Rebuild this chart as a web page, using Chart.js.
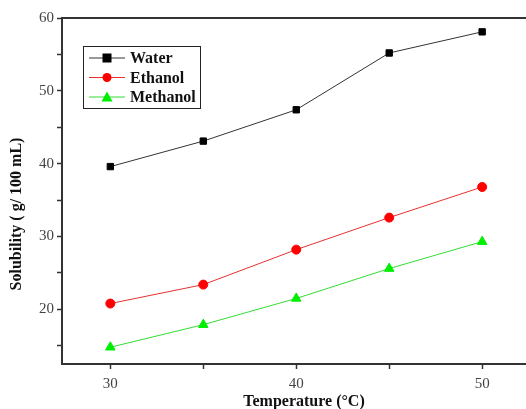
<!DOCTYPE html>
<html>
<head>
<meta charset="utf-8">
<script src="https://cdn.jsdelivr.net/npm/chart.js@4"></script>
<style>
  html, body { margin: 0; padding: 0; background: #fff; overflow: hidden; }
  #wrap { width: 537px; height: 409px; }
</style>
</head>
<body>
<div id="wrap"><canvas id="myChart" width="537" height="409"></canvas></div>
<script>
var temps = [30, 35, 40, 45, 50];
var water = [39.6, 43.1, 47.4, 55.2, 58.1];
var ethanol = [20.8, 23.4, 28.2, 32.6, 36.8];
var methanol = [14.8, 17.9, 21.5, 25.6, 29.3];
var seriesNames = ['Water', 'Ethanol', 'Methanol'];
var xTickLabels = [30, 40, 50];
var yTickLabels = [20, 30, 40, 50, 60];
var xTitle = 'Temperature (°C)';
var yTitle = 'Solubility ( g/ 100 mL)';

function pts(ys) {
  return temps.map(function (t, i) { return { x: t, y: ys[i] }; });
}

// top frame, axis titles and the legend box (line + marker, origin style)
var frameLegend = {
  id: 'frameLegend',
  afterDraw: function (chart) {
    var c = chart.ctx, a = chart.chartArea;
    c.save();
    c.strokeStyle = '#333';
    c.lineWidth = 2;
    c.beginPath();
    c.moveTo(a.left, a.top);
    c.lineTo(a.right, a.top);
    c.stroke();

    c.fillStyle = '#111';
    c.font = 'bold 16px "Liberation Serif"';
    c.textAlign = 'center';
    c.textBaseline = 'middle';
    c.fillText(xTitle, 304, 402);
    c.save();
    c.translate(17, 214);
    c.rotate(-Math.PI / 2);
    c.fillText(yTitle, 0, 0);
    c.restore();

    var bx = a.left + 21, by = a.top + 28, bw = 117, bh = 62;
    c.lineWidth = 1;
    c.strokeStyle = '#222';
    c.fillStyle = '#fff';
    c.fillRect(bx, by, bw, bh);
    c.strokeRect(bx + 0.5, by + 0.5, bw, bh);
    c.font = 'bold 16px "Liberation Serif"';
    c.textAlign = 'left';
    chart.data.datasets.forEach(function (ds, i) {
      var y = by + 12 + i * 19.5;
      var mx = bx + 24, r = ds.pointRadius;
      c.strokeStyle = ds.borderColor;
      c.lineWidth = 1;
      c.beginPath();
      c.moveTo(bx + 6, y);
      c.lineTo(bx + 42, y);
      c.stroke();
      c.fillStyle = ds.pointBackgroundColor;
      c.beginPath();
      if (ds.pointStyle === 'rect') {
        c.fillRect(mx - r, y - r, r * 2, r * 2);
      } else if (ds.pointStyle === 'circle') {
        c.arc(mx, y, r, 0, Math.PI * 2);
        c.fill();
      } else {
        c.moveTo(mx, y - r);
        c.lineTo(mx + r, y + r * 0.8);
        c.lineTo(mx - r, y + r * 0.8);
        c.closePath();
        c.fill();
      }
      c.fillStyle = '#111';
      c.fillText(ds.label, bx + 47, y + 1);
    });
    c.restore();
  }
};

var ctx = document.getElementById('myChart').getContext('2d');
var myChart = new Chart(ctx, {
  type: 'line',
  data: {
    datasets: [{
      label: seriesNames[0],
      data: pts(water),
      borderColor: '#333',
      pointBackgroundColor: '#000',
      pointBorderColor: '#000',
      pointStyle: 'rect',
      pointRadius: 4.5
    }, {
      label: seriesNames[1],
      data: pts(ethanol),
      borderColor: '#e83030',
      pointBackgroundColor: '#ff0000',
      pointBorderColor: '#ff0000',
      pointStyle: 'circle',
      pointRadius: 4.5
    }, {
      label: seriesNames[2],
      data: pts(methanol),
      borderColor: '#33dd33',
      pointBackgroundColor: '#00ee00',
      pointBorderColor: '#00ee00',
      pointStyle: 'triangle',
      pointRadius: 5.5
    }]
  },
  options: {
    responsive: false,
    animation: false,
    layout: { padding: { top: 18, right: 0, left: 0, bottom: 0 } },
    elements: { line: { borderWidth: 1, tension: 0 }, point: { borderWidth: 1 } },
    plugins: { legend: { display: false }, tooltip: { enabled: false } },
    scales: {
      x: {
        type: 'linear',
        min: 27.4,
        max: 52.6,
        afterFit: function (s) { s.height = 45; },
        afterBuildTicks: function (s) {
          s.ticks = [30, 35, 40, 45, 50].map(function (v) { return { value: v }; });
        },
        ticks: {
          color: '#444',
          padding: 6,
          font: { family: '"Liberation Serif"', size: 15 },
          callback: function (v) { return xTickLabels.indexOf(v) >= 0 ? v : ''; }
        },
        grid: { drawOnChartArea: false, tickLength: 5, tickColor: '#333', tickWidth: 1.5 },
        border: { color: '#333', width: 2 }
      },
      y: {
        min: 12.5,
        max: 60,
        afterFit: function (s) { s.width = 62; },
        afterBuildTicks: function (s) {
          s.ticks = [15, 20, 25, 30, 35, 40, 45, 50, 55, 60].map(function (v) { return { value: v }; });
        },
        ticks: {
          color: '#444',
          padding: 3,
          font: { family: '"Liberation Serif"', size: 15 },
          callback: function (v) { return yTickLabels.indexOf(v) >= 0 ? v : ''; }
        },
        grid: { drawOnChartArea: false, tickLength: 5, tickColor: '#333', tickWidth: 1.5 },
        border: { color: '#333', width: 2 }
      }
    }
  },
  plugins: [frameLegend]
});
</script>
</body>
</html>
